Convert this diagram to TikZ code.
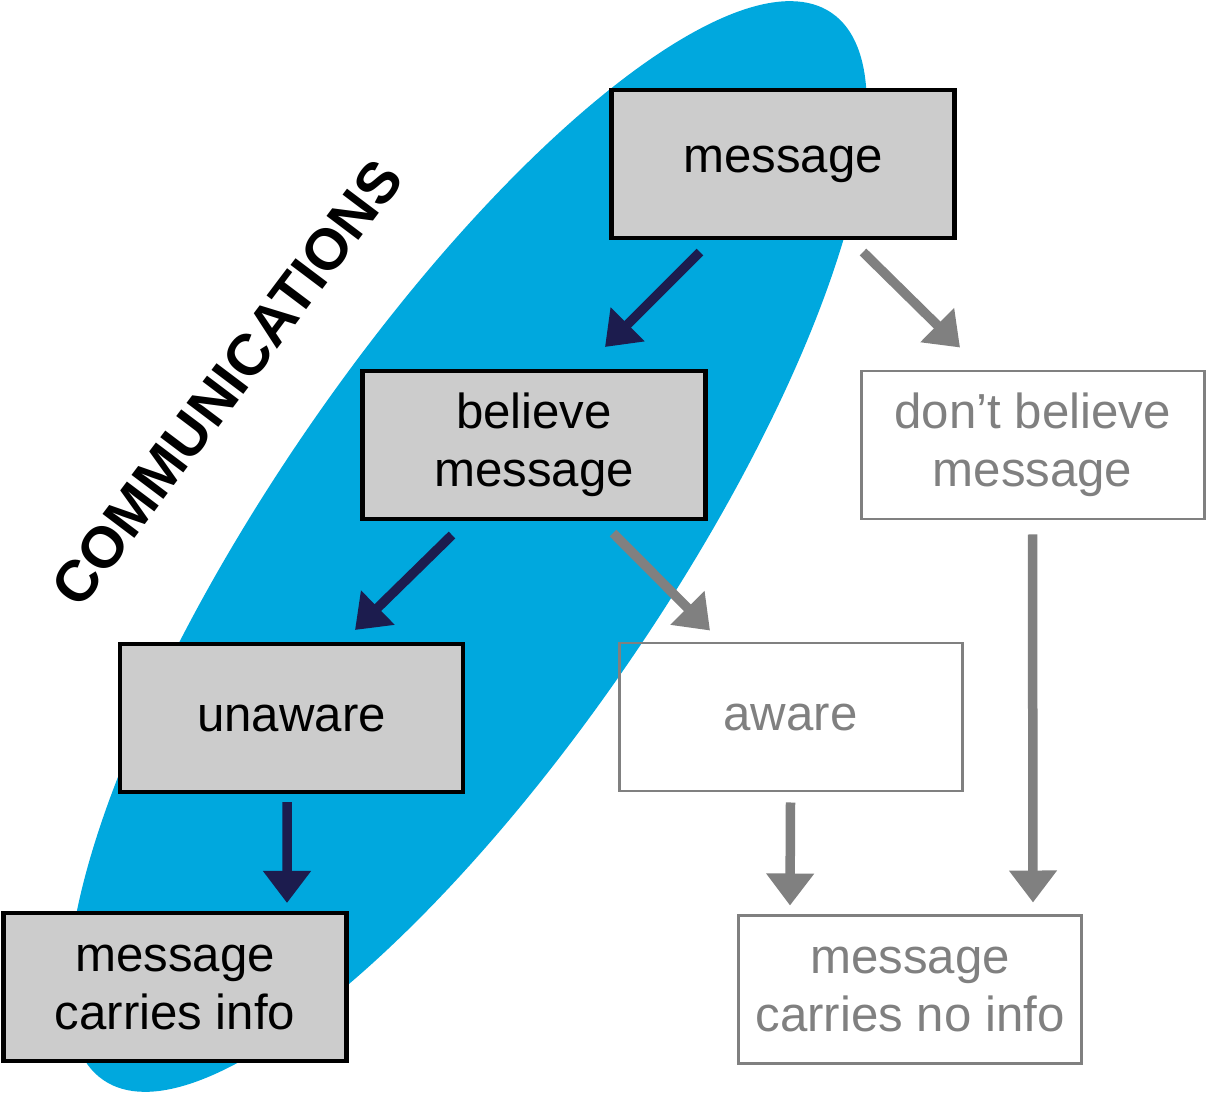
\documentclass[tikz,border=0pt]{standalone}
\usepackage{fontspec}
\setmainfont{Liberation Sans}
\usetikzlibrary{arrows.meta}
\definecolor{commblue}{RGB}{0,168,222}
\definecolor{boxgray}{RGB}{204,204,204}
\definecolor{fadegray}{RGB}{128,128,128}
\definecolor{darknavy}{RGB}{28,28,78}

\begin{document}
\begin{tikzpicture}[
    box/.style={rectangle, inner sep=0pt, minimum width=6.86cm, minimum height=2.96cm, align=center, font=\fontsize{28}{33}\selectfont},
    inbox/.style={box, draw=black, line width=2.3pt, fill=boxgray},
    outbox/.style={box, draw=fadegray, line width=1.7pt, text=fadegray},
    inarrow/.style={line width=0.19cm, darknavy, -{Triangle[width=0.92cm,length=0.64cm]}},
    outarrow/.style={inarrow, fadegray}
]
    \useasboundingbox (0,0) rectangle (24.16,-21.86);

    % Draw the communications ellipse
    \begin{scope}
        \clip (0,0) rectangle (24.16,-21.86);
        \fill[commblue, shift={(9.35,-10.93)}, rotate=55.7] (0,0) ellipse (12.92 and 3.97);
    \end{scope}
    \node[rotate=53, font=\bfseries\fontsize{33}{38}\selectfont] (comm) at (4.54,-7.66) {COMMUNICATIONS};

    % Draw the boxes
    \node[inbox] (msg) at (15.66,-3.28) {message};
    \node[inbox] (believe) at (10.68,-8.90) {believe\\message};
    \node[outbox] (dont) at (20.65,-8.90) {don’t believe\\message};
    \node[inbox] (unaware) at (5.83,-14.36) {unaware};
    \node[outbox] (aware) at (15.81,-14.34) {aware};
    \node[inbox] (info) at (3.50,-19.74) {message\\carries info};
    \node[outbox] (noinfo) at (18.20,-19.78) {message\\carries no info};

    % Draw the arrows
    \draw[inarrow] ([xshift=-1.66cm,yshift=-0.24cm]msg.south) -- ([xshift=1.42cm,yshift=0.44cm]believe.north);
    \draw[outarrow] ([xshift=1.60cm,yshift=-0.24cm]msg.south) -- ([xshift=-1.45cm,yshift=0.44cm]dont.north);
    \draw[inarrow] ([xshift=-1.64cm,yshift=-0.28cm]believe.south) -- ([xshift=1.27cm,yshift=0.24cm]unaware.north);
    \draw[outarrow] ([xshift=1.58cm,yshift=-0.24cm]believe.south) -- ([xshift=-1.61cm,yshift=0.22cm]aware.north);
    \draw[inarrow] ([xshift=-0.09cm,yshift=-0.16cm]unaware.south) -- ([xshift=2.24cm,yshift=0.16cm]info.north);
    \draw[outarrow] ([yshift=-0.2cm]aware.south) -- ([xshift=-2.40cm,yshift=0.16cm]noinfo.north);
    \draw[outarrow] ([yshift=-0.28cm]dont.south) -- ([xshift=2.46cm,yshift=0.22cm]noinfo.north);
\end{tikzpicture}
\end{document}
